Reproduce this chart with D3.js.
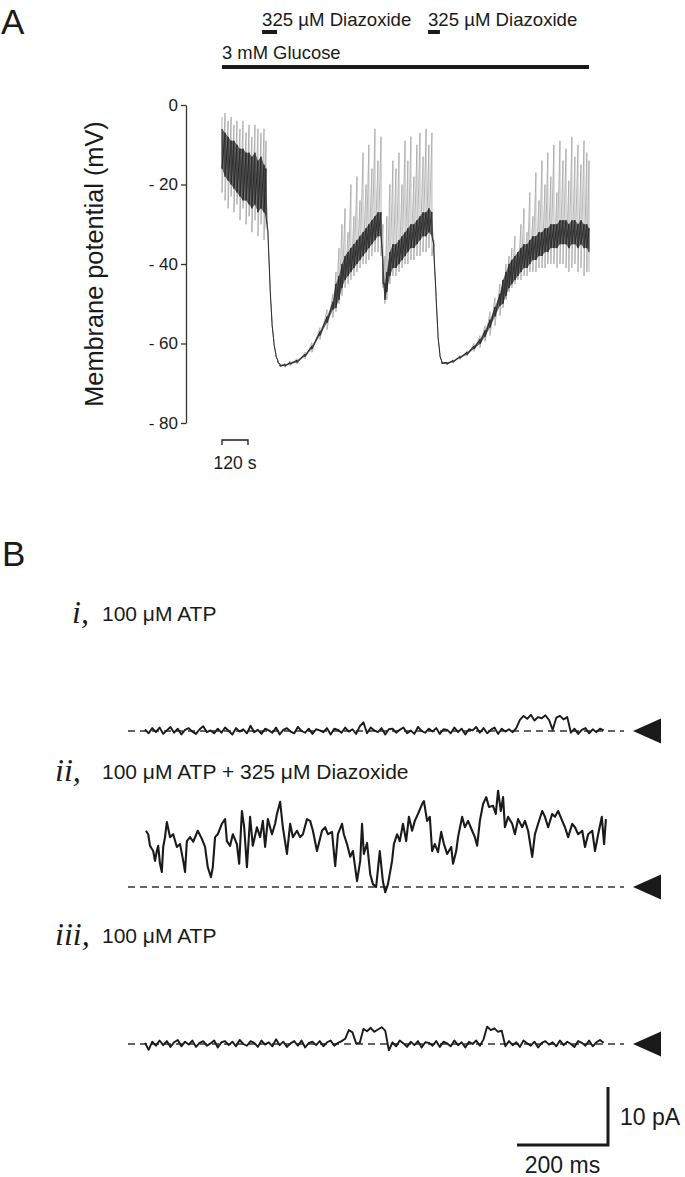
<!DOCTYPE html>
<html><head><meta charset="utf-8">
<script src="https://cdn.jsdelivr.net/npm/d3@7"></script>
<style>
body{margin:0;background:#fff}
svg{display:block}
text{font-family:"Liberation Sans",Arial,Helvetica,sans-serif;fill:#1a1a1a}
text.roman{font-family:"Liberation Serif","Times New Roman",serif;font-style:italic}
</style>
</head><body>
<svg id="c" width="685" height="1177"></svg>
<script>
// ---------------- Panel A data (time in s, membrane potential in mV) ----------------
const yTicksA = [0, -20, -40, -60, -80];
const glucosePeriod = [0, 1694];
const diazoxidePeriods = [[185, 254], [951, 1006]];
const scaleBarA = 120; // s
const tA = [0,14,28,42,55,69,83,97,111,125,138,152,166,180,194,203,
  212,222,231,240,249,258,268,
  291,314,346,383,415,452,485,512,
  526,540,554,568,582,595,609,623,637,651,665,678,692,706,720,734,
  743,752,761,775,789,
  803,817,831,845,858,872,886,900,914,928,942,955,969,
  978,988,997,1006,1015,
  1038,1066,1098,1131,1163,1191,1214,1237,1260,1283,
  1297,1311,1325,1338,1352,1366,1380,1394,1408,1421,1435,1449,1463,1477,1491,1504,1518,1532,1546,1560,1574,1588,1601,1615,1629,1643,1657,1671,1684,1694];
const topA = [-3,-2,-4,-3,-5,-4,-6,-4,-7,-5,-8,-5,-6,-7,-6,-9,
  -31.5,-45.6,-54.7,-59.7,-62.7,-64.2,-65.1,
  -65.0,-64.4,-63.8,-62.2,-59.8,-56.0,-51.5,-47.5,
  -42,-36,-30,-26,-32,-20,-28,-18,-24,-12,-20,-10,-16,-6,-14,-8,
  -30,-38,-28,-20,-14,
  -16,-12,-20,-9,-14,-8,-18,-10,-7,-13,-6,-10,-7,
  -34,-47.6,-57.7,-62.7,-64.5,
  -64.7,-64.1,-63.0,-61.8,-60.0,-58.0,-55.5,-52.0,-48.5,-45.0,
  -44,-40,-38,-36,-33,-38,-30,-26,-32,-22,-28,-17,-24,-14,-20,-12,-18,-10,-22,-9,-14,-11,-19,-8,-13,-10,-15,-9,-12,-14];
const hiA = [-6,-7,-8,-9,-9,-10,-11,-11,-12,-12,-13,-12,-14,-13,-15,-16,
  -31.8,-45.8,-54.8,-59.8,-62.8,-64.3,-65.3,
  -65.3,-64.8,-64.2,-62.7,-60.6,-57.0,-53.2,-49.5,
  -45,-43,-40,-38,-37,-36,-35,-34,-33,-32,-31,-30,-29,-28,-27,-27,
  -39,-45,-42,-37,-35,
  -35,-34,-33,-32,-31,-30,-30,-29,-28,-27,-27,-26,-27,
  -35,-47.8,-57.8,-62.8,-64.6,
  -64.8,-64.3,-63.3,-62.2,-60.6,-58.9,-56.7,-54.0,-50.8,-47.5,
  -44,-42,-40,-39,-38,-37,-36,-35,-35,-34,-33,-33,-32,-32,-31,-31,-30,-30,-30,-29,-29,-29,-30,-29,-29,-30,-29,-30,-30,-31];
const loA = [-16,-18,-19,-20,-21,-22,-23,-24,-24,-25,-26,-25,-27,-26,-27,-28,
  -32.2,-46.2,-55.2,-60.2,-63.2,-64.7,-65.7,
  -65.7,-65.2,-64.8,-63.3,-61.4,-58.0,-54.8,-51.5,
  -51,-49,-46,-44,-43,-42,-41,-40,-39,-38,-37,-36,-35,-34,-33,-33,
  -45,-49,-47,-43,-41,
  -41,-40,-39,-38,-37,-36,-36,-35,-34,-33,-33,-32,-33,
  -37,-48.2,-58.2,-63.2,-65.0,
  -65.2,-64.7,-63.7,-62.8,-61.4,-60.1,-58.3,-56.0,-53.2,-50.5,
  -50,-48,-46,-45,-44,-43,-42,-41,-41,-40,-39,-39,-38,-38,-37,-37,-36,-36,-36,-35,-35,-35,-36,-35,-35,-36,-35,-36,-36,-37];
const botA = [-22,-24,-26,-23,-27,-25,-29,-26,-30,-28,-32,-29,-33,-30,-34,-31,
  -32.5,-46.4,-55.3,-60.3,-63.3,-64.8,-65.9,
  -66.0,-65.6,-65.2,-63.8,-62.2,-59.0,-56.5,-53.5,
  -52,-50,-48,-46,-45,-44,-43,-42,-41,-40,-40,-39,-38,-37,-37,-38,
  -46,-50,-49,-45,-43,
  -43,-42,-41,-40,-40,-39,-39,-38,-38,-37,-37,-36,-38,
  -38,-48.4,-58.3,-63.3,-65.1,
  -65.3,-64.9,-64.0,-63.2,-62.0,-61.0,-59.5,-58.0,-55.5,-53.0,
  -51,-49,-47,-46,-45,-44,-44,-43,-43,-42,-42,-42,-41,-41,-41,-40,-40,-40,-41,-40,-40,-41,-42,-41,-40,-42,-41,-43,-42,-42];

// ---------------- Panel B data (time in ms, current in pA) ----------------
const sampleIntervalB = 8; // ms between samples of traces i and iii
const traceI = [0.3,-0.4,0.5,-0.2,0.6,-0.5,0.1,0.7,-0.3,0.4,
  -0.6,0.2,0.5,-0.1,-0.5,0.3,0.8,-0.2,0.1,-0.4,
  0.4,-0.3,0.6,0.0,-0.6,0.5,-0.1,0.3,-0.4,0.9,
  -0.2,0.2,-0.5,0.4,0.1,-0.3,0.6,-0.6,0.2,0.5,
  -0.1,-0.4,0.7,0.0,-0.3,0.4,-0.5,0.3,0.1,-0.2,
  0.5,-0.6,0.4,0.2,-0.3,0.6,-0.1,0.3,-0.5,0.8,
  1.5,-0.4,0.6,0.1,-0.2,0.5,-0.6,0.3,0.4,-0.3,
  0.2,0.6,-0.4,0.1,-0.5,0.7,0.0,-0.3,0.4,-0.1,
  0.5,-0.5,0.3,0.2,-0.4,0.6,-0.2,0.4,-0.6,0.3,
  0.1,0.7,-0.3,0.5,-0.4,0.2,0.6,-0.5,0.4,-0.1,
  0.3,-0.2,0.5,
  1.9,2.6,2.1,2.8,1.8,2.4,2.2,2.7,1.9,0.2,2.3,2.6,2.0,2.4,
  -0.3,0.4,-0.5,0.2,0.5,-0.4,0.3,-0.2,0.4,0.1];
const traceIII = [0.2,-1.0,0.4,-0.3,0.6,-0.2,0.5,-0.5,0.3,0.7,
  -0.4,0.4,-0.1,0.6,-0.5,0.2,0.5,-0.3,0.1,0.6,
  -0.6,0.3,0.5,-0.2,0.4,-0.4,0.7,0.0,-0.3,0.5,
  0.2,-0.5,0.6,-0.1,0.3,-0.4,0.8,-0.2,0.4,-0.5,
  0.1,0.5,-0.3,0.6,-0.6,0.2,0.4,-0.2,0.5,-0.4,
  0.3,0.6,-0.3,0.2,0.5,0.9,
  2.4,2.0,0.1,0.2,2.6,2.2,2.8,2.1,2.5,2.9,2.3,
  -1.1,
  0.3,-0.4,0.6,0.1,-0.5,0.4,-0.2,0.5,-0.6,0.3,0.2,-0.3,
  0.5,-0.5,0.4,0.1,-0.4,0.6,-0.2,0.3,-0.6,0.4,0.0,0.6,-0.3,0.8,
  3.0,2.4,2.7,2.1,2.3,
  -0.4,0.5,-0.2,0.3,-0.5,0.6,0.1,-0.3,0.4,-0.6,0.2,0.5,-0.1,0.3,-0.4,0.6,-0.2,0.4,0.0,-0.5,0.5,0.2,-0.3,0.6,-0.4,0.3,0.7,0.2];
const traceIIt = [2,7,11,18,22,26,29,33,37,40,44,48,55,62,70,77,84,88,92,99,106,116,125,132,138,145,149,154,160,169,176,180,187,193,202,207,213,218,224,231,237,246,253,259,264,270,279,286,290,297,303,312,319,325,334,341,347,356,363,369,378,389,396,402,411,418,424,433,437,444,451,457,466,473,477,481,488,495,501,508,516,523,528,534,543,547,554,560,567,574,580,587,593,600,609,613,620,626,631,637,644,651,657,664,673,677,684,688,697,703,710,719,725,730,736,743,750,756,765,771,776,782,787,791,798,807,813,820,829,835,842,851,857,864,873,879,886,895,901,908,917,923,930,939,945,952,961,967,974,983,989,996,1004,1009,1013];
const traceIIv = [9.7,9.1,7.1,6.2,4.5,6.2,7.1,4.0,2.6,6.9,8.6,11.2,8.6,9.1,6.9,7.4,4.5,2.6,7.9,8.6,7.8,9.7,8.3,6.9,3.4,1.7,3.4,8.6,9.1,10.9,11.7,7.9,7.1,9.1,7.4,4.0,13.1,10.3,3.4,12.1,7.1,10.3,8.6,11.4,6.9,11.7,9.1,10.9,12.6,14.7,10.3,5.7,10.9,8.6,9.7,8.6,9.1,11.7,11.4,9.7,6.2,9.7,10.3,9.1,9.5,3.6,9.1,10.9,9.1,7.4,5.2,6.2,1.0,4.5,10.9,5.7,7.6,2.2,0.5,0,6.2,0.9,-0.9,0.5,4.5,7.4,9.1,7.9,10.9,7.9,12.1,9.7,11.4,12.6,14.3,14.8,11.4,12.1,6.2,7.4,6.0,9.5,7.4,5.7,6.9,4.0,6.2,8.6,12.1,10.3,11.4,9.7,8.6,7.1,11.4,14.3,15.5,13.8,14.0,12.6,16.6,13.1,15.5,10.3,12.1,10.9,9.1,11.7,10.3,11.4,9.7,5.2,9.1,10.9,13.1,12.1,10.3,12.6,12.1,13.1,11.4,10.3,8.6,10.9,10.3,9.1,9.7,6.9,9.1,9.7,6.2,9.1,12.1,7.4,11.7];
const traceLabels = [
  {num: "i,", text: "100 \u03bcM ATP"},
  {num: "ii,", text: "100 \u03bcM ATP + 325 \u03bcM Diazoxide"},
  {num: "iii,", text: "100 \u03bcM ATP"}
];
const scaleBarB = {time: 200, current: 10};

// ---------------- Drawing ----------------
const svg = d3.select('#c');
svg.append('rect').attr('width',685).attr('height',1177).attr('fill','#fff');
const ink = '#1a1a1a';

svg.append('text').attr('x',1).attr('y',34).attr('font-size',35).text('A');
svg.append('text').attr('x',2).attr('y',566).attr('font-size',35).text('B');

// ----- Panel A -----
const xA = d3.scaleLinear().domain([0, 1694]).range([222, 589]);
const yA = d3.scaleLinear().domain([0, -80]).range([105, 423]);

const axis = d3.axisLeft(yA).tickValues(yTicksA).tickSize(5).tickSizeOuter(0)
  .tickFormat(d => d === 0 ? '0' : '- ' + Math.abs(d));
const gAx = svg.append('g').attr('transform','translate(186,0)').call(axis);
gAx.selectAll('path,line').attr('stroke','#333').attr('stroke-width',1.3);
gAx.selectAll('text').attr('font-size',17).attr('fill',ink);

svg.append('text').attr('transform','translate(103,264) rotate(-90)')
  .attr('text-anchor','middle').attr('font-size',25.3).text('Membrane potential (mV)');

svg.append('line').attr('x1',xA(glucosePeriod[0])).attr('x2',xA(glucosePeriod[1]))
  .attr('y1',67).attr('y2',67).attr('stroke',ink).attr('stroke-width',4);
svg.append('text').attr('x',xA(glucosePeriod[0])).attr('y',59).attr('font-size',18.4).text('3 mM Glucose');
diazoxidePeriods.forEach(p => {
  svg.append('line').attr('x1',xA(p[0])).attr('x2',xA(p[1]))
    .attr('y1',32).attr('y2',32).attr('stroke',ink).attr('stroke-width',4);
  svg.append('text').attr('x',xA(p[0])).attr('y',26).attr('font-size',18.6).text('325 \u00b5M Diazoxide');
});

const zig = (a, b) => { const pts = []; tA.forEach((t,i) => { pts.push([xA(t), yA(a[i])]); pts.push([xA(t), yA(b[i])]); }); return pts; };
const line = d3.line();
svg.append('path').attr('d', line(zig(topA, botA))).attr('fill','none').attr('stroke','#ababab').attr('stroke-width',0.9);
svg.append('path').attr('d', d3.area().x((d,i)=>xA(tA[i])).y0((d,i)=>yA(loA[i])).y1((d,i)=>yA(hiA[i]))(tA))
  .attr('fill','#3c3c3c').attr('fill-opacity',0.75);
svg.append('path').attr('d', line(zig(hiA, loA))).attr('fill','none').attr('stroke','#2a2a2a').attr('stroke-width',1);

const sb0 = xA(0), sb1 = xA(scaleBarA);
svg.append('path').attr('d',`M${sb0},445V440H${sb1}V445`).attr('fill','none').attr('stroke',ink).attr('stroke-width',1.3);
svg.append('text').attr('x',(sb0+sb1)/2).attr('y',469).attr('text-anchor','middle').attr('font-size',17.5).text(scaleBarA + ' s');

// ----- Panel B -----
const xB = d3.scaleLinear().domain([0, 1000]).range([145, 600]);
const pxPerPA = 5.8;
const baselines = [731, 887, 1044];
const labelY = [621, 779, 943];
const traces = [
  traceI.map((v,i) => [i*sampleIntervalB, v]),
  traceIIt.map((t,i) => [t, traceIIv[i]]),
  traceIII.map((v,i) => [i*sampleIntervalB, v])
];

traces.forEach((tr, k) => {
  const y0 = baselines[k];
  const yB = d3.scaleLinear().domain([0, 10]).range([y0, y0 - 10*pxPerPA]);
  svg.append('text').attr('class','roman').attr('x', k === 0 ? 72 : 55).attr('y', labelY[k] + 2)
    .attr('font-size',32).text(traceLabels[k].num);
  svg.append('text').attr('x',102).attr('y',labelY[k]).attr('font-size',21).text(traceLabels[k].text);
  svg.append('line').attr('x1',128).attr('x2',624).attr('y1',y0).attr('y2',y0)
    .attr('stroke','#333').attr('stroke-width',1.3).attr('stroke-dasharray','7,5');
  svg.append('path').attr('d', d3.line().x(d=>xB(d[0])).y(d=>yB(d[1]))(tr))
    .attr('fill','none').attr('stroke',ink).attr('stroke-width', k === 1 ? 2.1 : 1.9).attr('stroke-linejoin','round');
  svg.append('path').attr('d',`M633,${y0}L661,${y0-12.5}L661,${y0+12.5}Z`).attr('fill',ink);
});

const bx = 608, by = 1145;
const hLen = xB(scaleBarB.time) - xB(0);
const vLen = scaleBarB.current * pxPerPA;
svg.append('path').attr('d',`M${bx-hLen},${by}H${bx}V${by-vLen}`).attr('fill','none')
  .attr('stroke',ink).attr('stroke-width',3);
svg.append('text').attr('x',620).attr('y',1125).attr('font-size',23).text(scaleBarB.current + ' pA');
svg.append('text').attr('x',bx-hLen/2).attr('y',1173).attr('text-anchor','middle').attr('font-size',23).text(scaleBarB.time + ' ms');
</script>
</body></html>
